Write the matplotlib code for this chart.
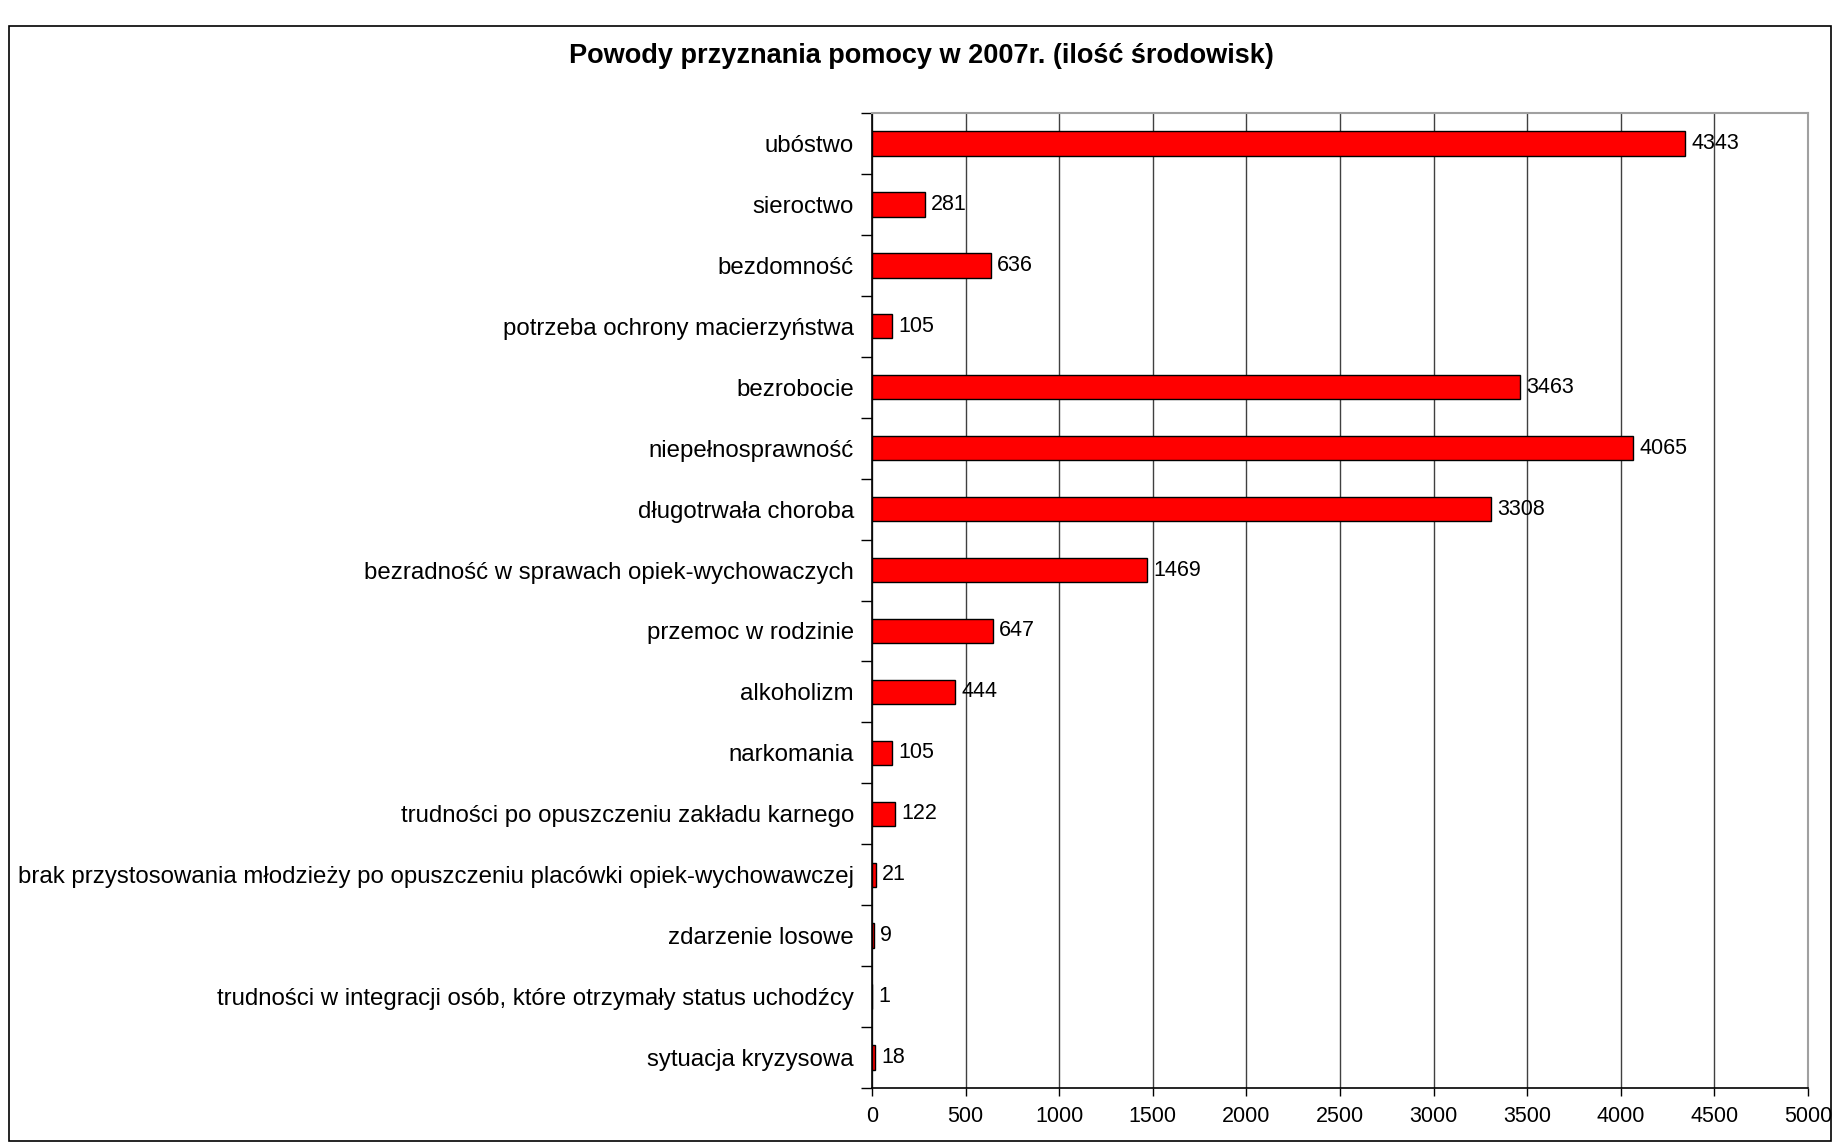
import matplotlib
matplotlib.use("Agg")
import matplotlib.pyplot as plt
import numpy as np
from matplotlib.patches import Rectangle

plt.rcParams['font.family'] = ['Liberation Sans', 'DejaVu Sans']

categories = [
    "ubóstwo",
    "sieroctwo",
    "bezdomność",
    "potrzeba ochrony macierzyństwa",
    "bezrobocie",
    "niepełnosprawność",
    "długotrwała choroba",
    "bezradność w sprawach opiek-wychowaczych",
    "przemoc w rodzinie",
    "alkoholizm",
    "narkomania",
    "trudności po opuszczeniu zakładu karnego",
    "brak przystosowania młodzieży po opuszczeniu placówki opiek-wychowawczej",
    "zdarzenie losowe",
    "trudności w integracji osób, które otrzymały status uchodźcy",
    "sytuacja kryzysowa",
]
values = [4343, 281, 636, 105, 3463, 4065, 3308, 1469, 647, 444, 105, 122, 21, 9, 1, 18]
xticks = [0, 500, 1000, 1500, 2000, 2500, 3000, 3500, 4000, 4500, 5000]
title = "Powody przyznania pomocy w 2007r. (ilość środowisk)"

W, H = 1834, 1144
fig = plt.figure(figsize=(W / 100, H / 100), dpi=100)

# outer chart frame
fig.patches.append(Rectangle((9 / W, 3 / H), (1831 - 9) / W, (1118 - 3) / H,
                             transform=fig.transFigure, fill=False,
                             edgecolor='black', linewidth=1.2))

ax = fig.add_axes([872 / W, 1 - 1088 / H, (1808 - 872) / W, (1088 - 113) / H])
n = len(categories)
y = np.arange(n)
ax.barh(y, values, height=0.4, color='#FF0000', edgecolor='black', linewidth=1.0, zorder=3)
ax.set_ylim(n - 0.5, -0.5)
ax.set_xlim(0, 5000)

ax.set_yticks(y)
ax.set_yticklabels(categories, fontsize=17.3)
ax.tick_params(axis='y', which='major', length=0, pad=13)
ax.set_yticks(np.arange(-0.5, n, 1.0), minor=True)
ax.tick_params(axis='y', which='minor', length=8, width=1, direction='out', color='black')

ax.set_xticks(xticks)
ax.set_xticklabels([str(t) for t in xticks], fontsize=15.5)
ax.tick_params(axis='x', length=6, width=1, direction='out', pad=7)

ax.grid(axis='x', color='#404040', linewidth=1.0, zorder=0)
for s in ['top', 'right']:
    ax.spines[s].set_color('#A0A0A0')
    ax.spines[s].set_linewidth(1.5)
for s in ['left', 'bottom']:
    ax.spines[s].set_color('black')
    ax.spines[s].set_linewidth(1.2)

for yi, v in zip(y, values):
    ax.annotate(str(v), xy=(v, yi), xytext=(4.5, 0), textcoords='offset points',
                va='center', ha='left', fontsize=15.5, zorder=4)

fig.text(921 / W, 1 - 56 / H, title, ha='center', va='center', fontsize=19.5, fontweight='bold')

fig.savefig("out.png", dpi=100, facecolor='white')
